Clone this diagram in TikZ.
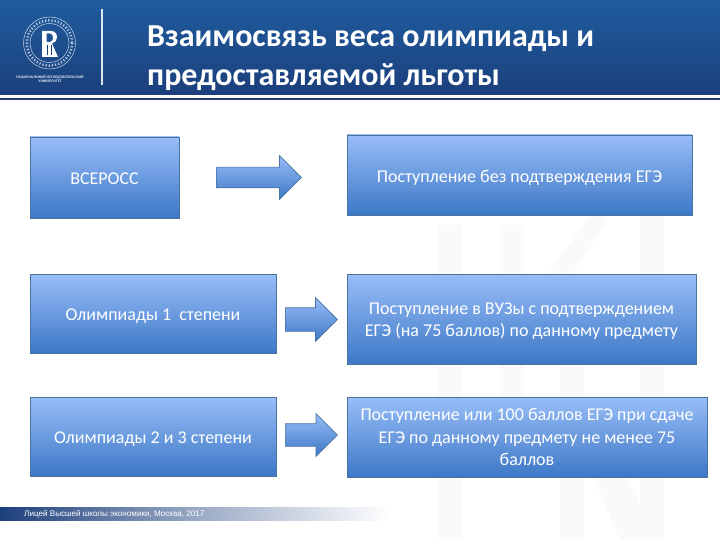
\documentclass[tikz,border=0pt]{standalone}
\usepackage{fontspec}
\setmainfont{Carlito}
\newfontfamily\footfont{Liberation Sans}
\usetikzlibrary{shapes.arrows}
\definecolor{headtop}{HTML}{1F5C9E}
\definecolor{headbot}{HTML}{1C3F7C}
\definecolor{headline}{HTML}{2B3F6E}
\definecolor{boxtop}{HTML}{98BDF8}
\definecolor{boxbot}{HTML}{3D78C6}
\definecolor{boxedge}{HTML}{4A729F}
\definecolor{markgray}{HTML}{FAFAFB}
\newcommand\lowr[1]{\rule{0pt}{#1pt}}
\tikzset{
  panel/.style={draw=boxedge, line width=0.7pt, top color=boxtop, bottom color=boxbot,
    text=white, align=center, inner sep=0pt, font=\fontsize{18}{22.7}\selectfont},
  blockarrow/.style={single arrow, draw=boxedge, line width=0.7pt, top color=boxtop,
    bottom color=boxbot, single arrow tip angle=90, anchor=tail, inner sep=0pt},
  wmark/.style={fill=markgray, draw=none}
}
\begin{document}
\begin{tikzpicture}[x=1pt, y=-1pt, line cap=butt]
  \useasboundingbox (0,0) rectangle (720,540);

  % watermark
  \fill[wmark] (438,225) rectangle (462,540);
  \fill[wmark] (500,225) rectangle (524,400);
  \fill[wmark] (530,300) -- (590,215) -- (610,215) -- (550,310) -- cycle;
  \fill[wmark] (560,360) rectangle (584,540);
  \fill[wmark] (640,200) rectangle (664,540);
  \fill[wmark] (590,470) -- (625,470) -- (655,540) -- (620,540) -- cycle;

  % header
  \shade[top color=headtop, bottom color=headbot] (0,0) rectangle (720,95);
  \fill[headline] (0,97.7) rectangle (720,100);
  \draw[white!85!headtop, line width=1.2pt] (102,9) -- (102,85);

  % logo
  \coordinate (logoc) at (49.5,43);
  \draw[white!75!headtop, line width=0.5pt] (logoc) circle (26);
  \draw[white!75!headtop, line width=0.5pt] (logoc) circle (19.5);
  \draw[white!70!headtop, line width=2.4pt, dash pattern=on 1.2pt off 2pt] (logoc) circle (22.7);
  \fill[white, even odd rule]
    (42,31) -- (51,31) .. controls (56,31) and (57,35) .. (57,37.5)
    .. controls (57,40) and (55,43) .. (52,43.5) -- (58,57) -- (42,57) -- cycle
    (46.5,33.5) -- (46.5,42) -- (50,42) .. controls (52.5,42) and (53,39.5) .. (53,37.5)
    .. controls (53,35) and (52,33.5) .. (50,33.5) -- cycle;
  \fill[headbot] (46.5,45) rectangle (48,55.5);
  \fill[headbot] (50.5,45) rectangle (52,55.5);
  \node[text=white!85!headtop, align=center, inner sep=0pt, font=\fontsize{3.8}{4.6}\selectfont\bfseries]
    (logotext) at (50,79) {НАЦИОНАЛЬНЫЙ ИССЛЕДОВАТЕЛЬСКИЙ\\УНИВЕРСИТЕТ};

  % title
  \node[anchor=north west, text=white, align=left, inner sep=0pt,
    font=\fontsize{32}{39}\selectfont\bfseries]
    (title) at (147,26) {Взаимосвязь веса олимпиады и\\предоставляемой льготы};

  % left column
  \node[panel, minimum width=149pt, minimum height=81pt] (vseross) at (104.5,177.5) {\lowr{14}ВСЕРОСС};
  \node[panel, minimum width=246pt, minimum height=79pt] (degone) at (153,314) {\lowr{16}Олимпиады 1\ \ степени};
  \node[panel, minimum width=246pt, minimum height=79pt] (degtwo) at (153,436.5) {\lowr{16}Олимпиады 2 и 3 степени};

  % right column
  \node[panel, minimum width=345pt, minimum height=80pt] (nexam) at (519.5,175) {\lowr{18}Поступление без подтверждения ЕГЭ};
  \node[panel, minimum width=349pt, minimum height=90pt] (vuz) at (521.5,319)
    {\lowr{16}Поступление в ВУЗы с подтверждением\\ЕГЭ (на 75 баллов) по данному предмету};
  \node[panel, minimum width=360pt, minimum height=80pt] (hundred) at (527,437)
    {Поступление или 100 баллов ЕГЭ при сдаче\\ЕГЭ по данному предмету не менее 75\\баллов};

  % arrows
  \node[blockarrow, minimum height=85pt, inner ysep=10pt, single arrow head extend=11.5pt] (arrone) at (216,177.5) {};
  \node[blockarrow, minimum height=52pt, inner ysep=11.5pt, single arrow head extend=10pt] (arrtwo) at (285,319.5) {};
  \node[blockarrow, minimum height=52pt, inner ysep=11pt, single arrow head extend=10pt] (arrthree) at (285,435) {};

  % footer
  \shade[left color=headbot, right color=white, middle color=headbot!45!white] (0,507) rectangle (390,520);
  \node[anchor=west, text=white, inner sep=0pt, font=\footfont\fontsize{8.1}{10}\selectfont]
    (foot) at (24,514) {Лицей Высшей школы экономики, Москва, 2017};
\end{tikzpicture}
\end{document}
